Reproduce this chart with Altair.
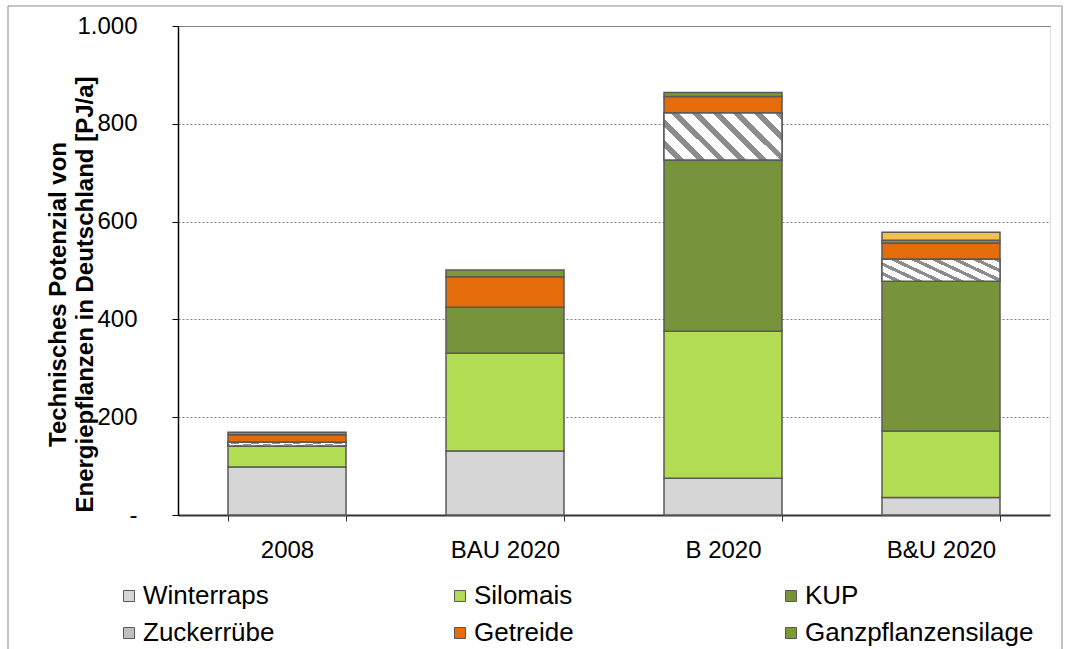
import altair as alt
import pandas as pd

# Szenarien (x-Achse)
szenarien = ["2008", "BAU 2020", "B 2020", "B&U 2020"]

# Technisches Potenzial je Kultur in PJ/a
winterraps = [98, 131, 75, 36]
silomais = [43, 200, 301, 136]
kup = [0, 94, 350, 306]
zuckerruebe = [8, 0, 96, 45]
getreide = [15, 62, 34, 33]
ganzpflanzensilage = [5, 14, 8, 6]
sonstige = [0, 0, 0, 16]

kulturen = ["Winterraps", "Silomais", "KUP", "Zuckerrübe", "Getreide",
            "Ganzpflanzensilage", "Sonstige"]
farben = ["#d6d6d6", "#b2dc52", "#77933c", "#bfbfbf", "#e46c0a",
          "#7b9a33", "#f2c14e"]
reihen = [winterraps, silomais, kup, zuckerruebe, getreide,
          ganzpflanzensilage, sonstige]

zeilen = []
for rang, (name, werte) in enumerate(zip(kulturen, reihen)):
    for sz, w in zip(szenarien, werte):
        zeilen.append({"Szenario": sz, "Kultur": name, "PJ": w, "rang": rang})
df = pd.DataFrame(zeilen)

SCHRIFT = "Liberation Sans"
RAND = "#595959"


def streifen(n=8, hell="#ffffff", dunkel="#8c8c8c", anteil=0.62):
    """Diagonale Schraffur als harter Farbverlauf."""
    stops = []
    for i in range(n):
        a, m, b = i / n, (i + anteil) / n, (i + 1) / n
        stops += [
            alt.GradientStop(offset=a, color=hell),
            alt.GradientStop(offset=m, color=hell),
            alt.GradientStop(offset=m, color=dunkel),
            alt.GradientStop(offset=b, color=dunkel),
        ]
    return alt.LinearGradient(gradient="linear", stops=stops,
                              x1=0, y1=1, x2=1.207, y2=0.517)


basis = alt.Chart(df).transform_filter("datum.PJ > 0").transform_stack(
    stack="PJ", groupby=["Szenario"], as_=["y0", "y1"],
    sort=[alt.SortField("rang", order="ascending")],
)

x_enc = alt.X(
    "Szenario:N", sort=szenarien,
    scale=alt.Scale(paddingInner=0.4587, paddingOuter=0.2294),
    axis=alt.Axis(
        title=None, labelAngle=0, labelFontSize=24, labelColor="#000000",
        labelFont=SCHRIFT, labelPadding=17, tickBand="extent", ticks=True,
        tickSize=6, tickColor="#333333", domainColor="#333333",
        domainWidth=2, grid=False,
    ),
)

y_enc = alt.Y(
    "y0:Q",
    scale=alt.Scale(domain=[0, 1000], nice=False),
    axis=alt.Axis(
        title=["Technisches Potenzial von",
               "Energiepflanzen in Deutschland [PJ/a]"],
        titleFont=SCHRIFT, titleFontSize=24, titleFontWeight="bold",
        titleColor="#000000", titleAngle=-90, titleAlign="center",
        titleBaseline="alphabetic", titleLineHeight=27,
        titleX=-113, titleY=268,
        values=[0, 200, 400, 600, 800, 1000],
        labelExpr="datum.value == 0 ? '-\u00a0\u00a0' : "
                  "replace(format(datum.value, ',d'), ',', '.')",
        labelFont=SCHRIFT, labelFontSize=24, labelColor="#000000",
        labelPadding=35, tickSize=6, tickColor="#000000",
        domainColor="#000000", domainWidth=1.5,
        grid=True, gridColor="#808080", gridWidth=1,
        gridDash={"condition": {"test": "datum.value >= 1000", "value": []},
                  "value": [2, 2]},
    ),
)

balken = basis.mark_bar(stroke=RAND, strokeWidth=1.5).encode(
    x=x_enc,
    y=y_enc,
    y2="y1:Q",
    color=alt.Color(
        "Kultur:N",
        scale=alt.Scale(domain=kulturen, range=farben),
        legend=alt.Legend(
            title=None, orient="none", legendX=-62, legendY=557,
            direction="horizontal", columns=3, gridAlign="all",
            columnPadding=75, rowPadding=11,
            symbolType="square", symbolSize=121, symbolStrokeColor=RAND,
            symbolStrokeWidth=1, labelFont=SCHRIFT, labelFontSize=26,
            labelColor="#000000", labelLimit=400, labelOffset=1, padding=0,
            values=kulturen[:6],
        ),
    ),
)

# Schraffur der Zuckerrüben-Segmente
schraffur = basis.transform_filter("datum.Kultur == 'Zuckerrübe'").mark_bar(
    fill=streifen(), stroke=RAND, strokeWidth=1.5
).encode(x=alt.X("Szenario:N", sort=szenarien), y="y0:Q", y2="y1:Q")

# Rahmen um die gesamte Grafik
rahmen = alt.Chart(pd.DataFrame({"r": [0]})).mark_rect(
    filled=False, stroke="#8c8c8c", strokeWidth=1
).encode(
    x=alt.value(-170), x2=alt.value(884), y=alt.value(-20), y2=alt.value(640)
)

chart = alt.layer(rahmen, balken, schraffur).properties(
    width=872, height=489,
    padding={"left": 178, "top": 26, "right": 20, "bottom": 134},
    autosize=alt.AutoSizeParams(type="none"),
).configure_view(strokeWidth=0).configure(background="#ffffff")

chart.save("out.html", embed_options={"renderer": "svg", "actions": False})
